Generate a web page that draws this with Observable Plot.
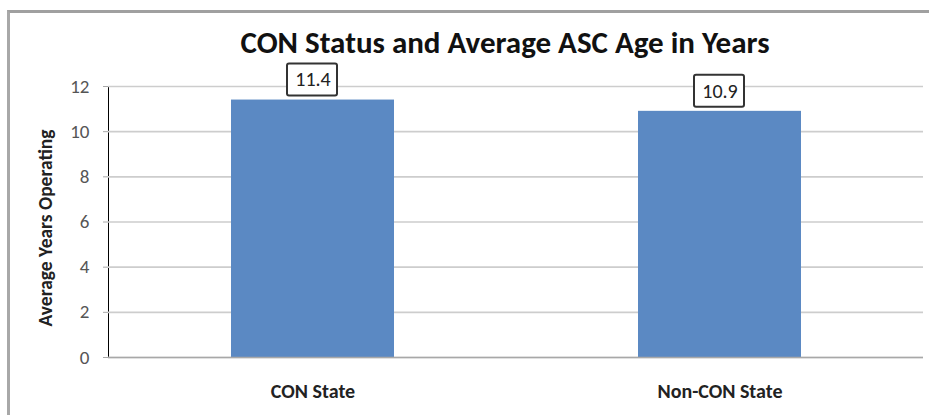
<!DOCTYPE html>
<html>
<head>
<meta charset="utf-8">
<script src="https://cdn.jsdelivr.net/npm/d3@7"></script>
<script src="https://cdn.jsdelivr.net/npm/@observablehq/plot@0.6"></script>
<style>
  html, body { margin: 0; padding: 0; background: #fff; overflow: hidden; }
  #wrap { position: relative; width: 929px; height: 415px; font-family: Carlito, "Liberation Sans Narrow", "Open Sans", sans-serif; }
  #border { position: absolute; left: 7px; top: 10px; width: 940px; height: 420px; border-left: 3px solid #a8a8a8; border-top: 3px solid #a0a0a0; box-sizing: border-box; }
  #title { position: absolute; left: 105px; width: 800px; top: 27px; line-height: 31px; text-align: center; font-weight: bold; font-size: 31px; color: #111; }
  #ylabel { position: absolute; left: 45px; top: 228px; transform: translate(-50%, -50%) rotate(-90deg); white-space: nowrap; font-weight: bold; font-size: 19.5px; color: #222; }
  #chart { position: absolute; left: 0; top: 0; }
  #chart g[aria-label*="y-axis"] text { font-size: 19px !important; fill: #555 !important; }
  #chart g[aria-label*="y-axis"] path, #chart g[aria-label*="y-axis"] line { stroke: #a8a8a8 !important; }
  #chart g[aria-label*="x-axis"] text { font-size: 20px !important; fill: #222 !important; font-weight: bold; }
</style>
</head>
<body>
<div id="wrap">
  <div id="chart"></div>
  <div id="border"></div>
  <div id="title">CON Status and Average ASC Age in Years</div>
  <div id="ylabel">Average Years Operating</div>
</div>
<script>
const categories = ["CON State", "Non-CON State"];
const values = [11.4, 10.9];
const labels = ["11.4", "10.9"];
const yTicks = [0, 2, 4, 6, 8, 10, 12];

const data = categories.map((c, i) => ({category: c, value: values[i], label: labels[i]}));
const font = 'Carlito, "Liberation Sans Narrow", "Open Sans", sans-serif';

const chart = Plot.plot({
  width: 929,
  height: 415,
  marginTop: 86,
  marginBottom: 58,
  marginLeft: 108,
  marginRight: 6,
  style: {fontFamily: font, background: "transparent", overflow: "visible"},
  x: {domain: categories, paddingInner: 0.6, paddingOuter: 0.3, label: null, tickSize: 0, tickPadding: 26},
  y: {domain: [0, 12], ticks: yTicks, label: null, tickSize: 5, tickPadding: 14, line: true},
  marks: [
    Plot.ruleY(yTicks, {stroke: "#cdcdcd", strokeWidth: 1.6}),
    Plot.barY(data, {x: "category", y: "value", fill: "#5b89c3"}),
    Plot.ruleY([0], {stroke: "#a8a8a8", strokeWidth: 1.5}),
    Plot.barY(data, {x: "category", y1: "value", y2: "value", insetTop: -36, insetBottom: 4, insetLeft: 56, insetRight: 57, fill: "#fff", stroke: "#333", strokeWidth: 2, rx: 2}),
    Plot.text(data, {x: "category", y: "value", text: "label", dy: -20, fontSize: 20, fill: "#222"})
  ]
});
document.getElementById("chart").appendChild(chart);
</script>
</body>
</html>
